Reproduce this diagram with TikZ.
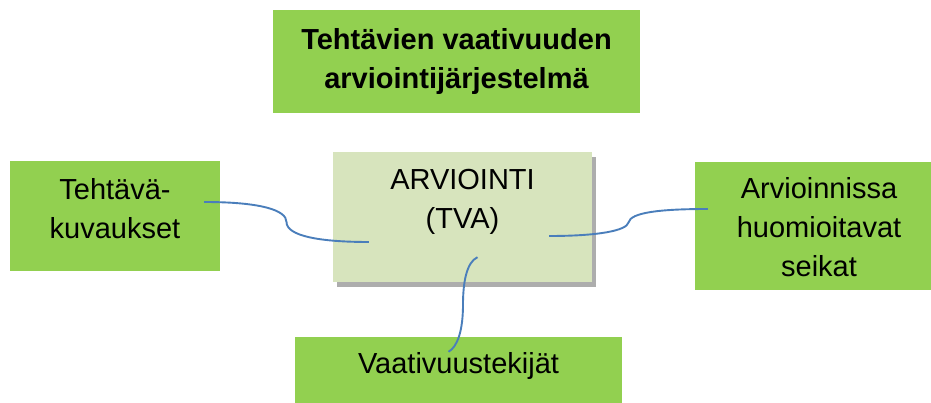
\documentclass[tikz,border=0pt]{standalone}
\usepackage{fontspec}
\setmainfont{Liberation Sans}
\usetikzlibrary{positioning, calc, shadows}
\definecolor{boxgreen}{HTML}{92D050}
\definecolor{palegreen}{HTML}{D7E4BD}
\definecolor{shadowgrey}{HTML}{ADADAD}
\definecolor{linkblue}{HTML}{4A7EBB}

\begin{document}
\begin{tikzpicture}[x=1pt, y=-1pt,
    box/.style={fill=boxgreen, inner sep=0pt},
    txt/.style={align=center, inner sep=0pt, font=\fontsize{29}{39}\selectfont},
    link/.style={draw=linkblue, line width=1.9pt}]
  \useasboundingbox (0,0) rectangle (931,403);
  % boxes
  \node[box, minimum width=367pt, minimum height=103pt] (title) at (456.5,61.5) {};
  \node[box, minimum width=210pt, minimum height=110pt] (tehtavat) at (115,216) {};
  \node[box, fill=palegreen, minimum width=259pt, minimum height=130pt,
        drop shadow={shadow xshift=4pt, shadow yshift=-5pt, fill=shadowgrey, opacity=1}] (arviointi) at (462.5,217) {};
  \node[box, minimum width=248pt, minimum height=128pt] (huomiot) at (819,226) {};
  \node[box, minimum width=327pt, minimum height=66pt] (tekijat) at (458.5,370) {};
  % texts
  \node[txt, font=\fontsize{29}{39}\selectfont\bfseries, below=18pt of title.north] (titletext) {Tehtävien vaativuuden\\arviointijärjestelmä};
  \node[txt, below=17pt of tehtavat.north] (tehtavattext) {Tehtävä-\\kuvaukset};
  \node[txt, below=17pt of arviointi.north] (arviointitext) {ARVIOINTI\\(TVA)};
  \node[txt, below=15pt of huomiot.north] (huomiottext) {Arvioinnissa\\huomioitavat\\seikat};
  \node[txt, below=15pt of tekijat.north] (tekijattext) {Vaativuustekijät};
  % connector ends
  \coordinate (tehtavat-out) at ($(tehtavat.east)+(-16,-14)$);
  \coordinate (arviointi-left) at ($(arviointi.west)+(36,25)$);
  \coordinate (arviointi-right) at ($(arviointi.east)+(-43,19)$);
  \coordinate (huomiot-in) at ($(huomiot.west)+(13,-17)$);
  \coordinate (arviointi-bottom) at ($(arviointi.south)+(15,-25)$);
  \coordinate (tekijat-in) at ($(tekijat.north)+(-10,15)$);
  \coordinate (bend-left) at ($(tehtavat-out)!0.5!(arviointi-left)$);
  \coordinate (bend-right) at ($(arviointi-right)!0.5!(huomiot-in)$);
  \coordinate (bend-bottom) at ($(arviointi-bottom)!0.5!(tekijat-in)$);
  % connectors
  \draw[link] (tehtavat-out) .. controls +(56,0) and +(0,-12) .. (bend-left)
    .. controls +(0,14) and +(-49,0) .. (arviointi-left);
  \draw[link] (arviointi-right) .. controls +(50,0) and +(-2,8) .. (bend-right)
    .. controls +(2,-10) and +(-48,0) .. (huomiot-in);
  \draw[link] (arviointi-bottom) .. controls +(-11,5) and +(0,-22) .. (bend-bottom)
    .. controls +(0,26) and +(9,-5) .. (tekijat-in);
\end{tikzpicture}
\end{document}
